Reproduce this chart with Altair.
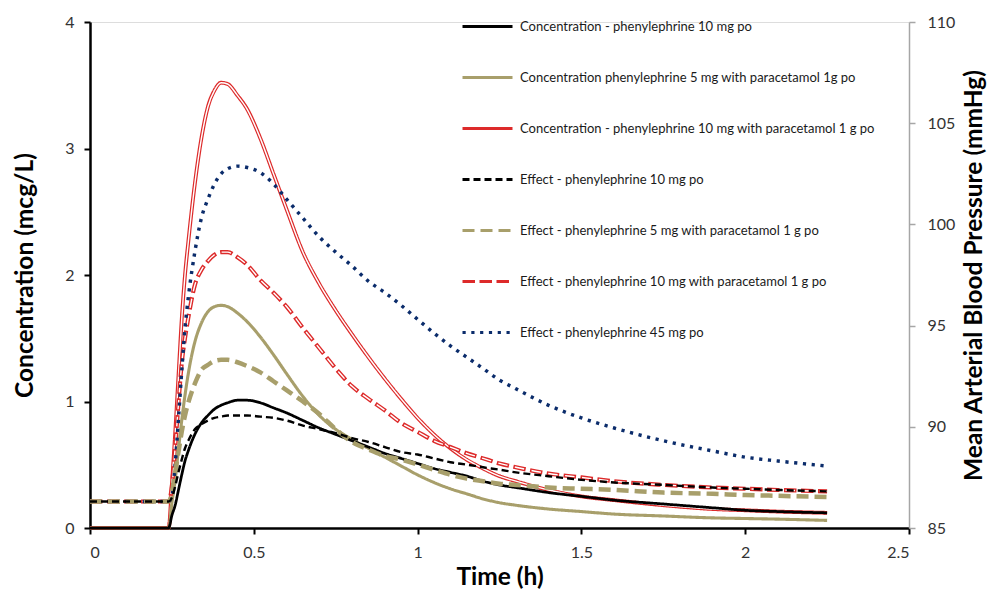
import altair as alt
import pandas as pd

TIME = [0, 0.24, 0.25, 0.26, 0.27, 0.28, 0.29, 0.30, 0.32, 0.34, 0.36, 0.38, 0.40, 0.42,
        0.45, 0.48, 0.52, 0.56, 0.60, 0.65, 0.70, 0.75, 0.80, 0.85, 0.90, 0.95, 1.00,
        1.05, 1.10, 1.15, 1.20, 1.25, 1.30, 1.40, 1.50, 1.60, 1.75, 1.90, 2.00, 2.10, 2.25]

SERIES = [
    "Concentration - phenylephrine 10 mg po",
    "Concentration phenylephrine 5 mg with paracetamol 1g po",
    "Concentration - phenylephrine 10 mg with paracetamol 1 g po",
    "Effect - phenylephrine 10 mg po",
    "Effect - phenylephrine 5 mg with paracetamol 1 g po",
    "Effect - phenylephrine 10 mg with paracetamol 1 g po",
    "Effect - phenylephrine 45 mg po",
]

# concentrations (mcg/L, left axis)
CONC_10 = [0, 0, 0.10, 0.18, 0.30, 0.42, 0.53, 0.61, 0.74, 0.83, 0.89, 0.94, 0.97, 0.99,
           1.01, 1.01, 0.99, 0.95, 0.91, 0.85, 0.79, 0.74, 0.69, 0.64, 0.59, 0.55, 0.51,
           0.47, 0.44, 0.41, 0.37, 0.34, 0.32, 0.28, 0.25, 0.22, 0.19, 0.16, 0.14, 0.13, 0.12]
CONC_5P = [0, 0, 0.20, 0.38, 0.62, 0.85, 1.05, 1.22, 1.47, 1.62, 1.71, 1.75, 1.76, 1.75,
           1.70, 1.63, 1.51, 1.37, 1.22, 1.04, 0.89, 0.78, 0.70, 0.63, 0.56, 0.49, 0.42,
           0.36, 0.31, 0.27, 0.23, 0.20, 0.18, 0.15, 0.13, 0.11, 0.095, 0.08, 0.075, 0.07, 0.06]
CONC_10P = [0, 0, 0.35, 0.75, 1.20, 1.65, 2.00, 2.26, 2.72, 3.08, 3.33, 3.46, 3.52, 3.51,
            3.42, 3.31, 3.08, 2.80, 2.52, 2.18, 1.93, 1.72, 1.53, 1.35, 1.18, 1.02, 0.87,
            0.74, 0.63, 0.54, 0.47, 0.41, 0.37, 0.30, 0.25, 0.22, 0.18, 0.15, 0.14, 0.13, 0.12]

# effects (mean arterial blood pressure, mmHg, right axis)
EFF_10 = [86.31, 86.31, 86.50, 87.06, 87.75, 88.38, 88.94, 89.31, 89.88, 90.13, 90.31, 90.44,
          90.50, 90.56, 90.56, 90.56, 90.50, 90.44, 90.31, 90.06, 89.88, 89.69, 89.44, 89.25,
          89.00, 88.75, 88.63, 88.44, 88.25, 88.13, 88.00, 87.88, 87.75, 87.56, 87.38, 87.25,
          87.13, 87.00, 86.94, 86.88, 86.81]
EFF_5P = [86.31, 86.31, 86.75, 87.75, 88.75, 89.75, 90.56, 91.19, 92.13, 92.81, 93.06, 93.25,
          93.31, 93.31, 93.19, 93.00, 92.69, 92.25, 91.81, 91.25, 90.63, 89.88, 89.25, 88.88,
          88.56, 88.38, 88.13, 87.88, 87.63, 87.44, 87.31, 87.19, 87.13, 87.00, 86.94, 86.88,
          86.75, 86.69, 86.63, 86.59, 86.53]
EFF_10P = [86.31, 86.31, 87.06, 89.00, 91.13, 93.13, 94.38, 95.38, 97.00, 97.75, 98.19, 98.50,
           98.63, 98.63, 98.38, 98.00, 97.25, 96.63, 95.94, 94.88, 93.88, 92.88, 92.00, 91.38,
           90.81, 90.19, 89.75, 89.31, 89.00, 88.69, 88.44, 88.19, 88.00, 87.69, 87.50, 87.31,
           87.13, 87.00, 86.94, 86.88, 86.81]
EFF_45 = [86.31, 86.31, 86.56, 88.13, 90.38, 92.75, 94.88, 96.38, 98.63, 100.31, 101.25, 102.00,
          102.50, 102.75, 102.88, 102.81, 102.56, 102.00, 101.25, 100.31, 99.38, 98.63, 97.94,
          97.19, 96.63, 96.00, 95.31, 94.63, 94.00, 93.44, 92.88, 92.31, 91.88, 91.06, 90.44,
          89.94, 89.31, 88.81, 88.50, 88.31, 88.06]

COLORS = ["#000000", "#A89F6B", "#DD2A2A", "#000000", "#A89F6B", "#DD2A2A", "#0B2C6B"]
DASHES = [[1, 0], [1, 0], [1, 0], [7, 4], [12, 6], [12.5, 4.5], [3.2, 5.6]]
# series ordered from thinnest to thickest line (evenly spaced widths)
WIDTH_ORDER = [SERIES[3], SERIES[0], SERIES[1], SERIES[6], SERIES[2], SERIES[5], SERIES[4]]
WIDTH_RANGE = [2.4, 4.5]

FONT = "Lato"


def frame(name, vals, col):
    return pd.DataFrame({"series": name, "time": TIME, col: vals})


conc_red = frame(SERIES[2], CONC_10P, "conc")
conc_other = pd.concat([frame(SERIES[1], CONC_5P, "conc"), frame(SERIES[0], CONC_10, "conc")])
eff_red = frame(SERIES[5], EFF_10P, "map")
eff_other = pd.concat([frame(SERIES[6], EFF_45, "map"), frame(SERIES[4], EFF_5P, "map"),
                       frame(SERIES[3], EFF_10, "map")])

TITLE_SIZE = 24.5

x_enc = alt.X("time:Q", title="Time (h)",
              scale=alt.Scale(domain=[0, 2.5], nice=False),
              axis=alt.Axis(values=[0, 0.5, 1, 1.5, 2, 2.5], format="~g", grid=False,
                            domainColor="black", domainWidth=2.5, tickColor="black",
                            tickWidth=2, tickSize=6, labelFontSize=16, labelColor="#333333",
                            labelPadding=10, labelFont=FONT, titleFont=FONT,
                            titleFontSize=TITLE_SIZE, titleFontWeight="bold",
                            titleColor="black", titlePadding=5))

yl_enc = alt.Y("conc:Q", title="Concentration (mcg/L)",
               scale=alt.Scale(domain=[0, 4], nice=False),
               axis=alt.Axis(values=[0, 1, 2, 3, 4], grid=False, domainColor="black",
                             domainWidth=2.5, tickColor="black", tickWidth=2, tickSize=6,
                             labelFontSize=16, labelColor="#333333", labelPadding=10,
                             labelFont=FONT, titleFont=FONT, titleFontSize=TITLE_SIZE,
                             titleFontWeight="bold", titleColor="black", titlePadding=27))

yr_enc = alt.Y("map:Q", title="Mean Arterial Blood Pressure (mmHg)",
               scale=alt.Scale(domain=[85, 110], nice=False, zero=False),
               axis=alt.Axis(orient="right", values=[85, 90, 95, 100, 105, 110], grid=False,
                             domainColor="#A6A6A6", domainWidth=1.5, tickColor="#A6A6A6",
                             tickWidth=1.5, tickSize=6, labelFontSize=16, labelColor="#333333",
                             labelPadding=12, labelFont=FONT, titleFont=FONT,
                             titleFontSize=TITLE_SIZE, titleFontWeight="bold",
                             titleColor="black", titleAngle=270, titleBaseline="top",
                             titlePadding=8))

legend = alt.Legend(orient="none", legendX=371, legendY=-22, title=None, symbolType="stroke",
                    symbolSize=2500, symbolStrokeWidth=3, labelFontSize=13, labelFont=FONT,
                    labelColor="#1a1a1a", labelLimit=0, rowPadding=17, padding=0,
                    labelOffset=6)

style = dict(
    color=alt.Color("series:N", scale=alt.Scale(domain=SERIES, range=COLORS), legend=legend),
    strokeDash=alt.StrokeDash("series:N", scale=alt.Scale(domain=SERIES, range=DASHES),
                              legend=legend),
    strokeWidth=alt.StrokeWidth("series:N",
                                scale=alt.Scale(type="point", domain=WIDTH_ORDER,
                                                range=WIDTH_RANGE, padding=0),
                                legend=None),
)


def lines(df, y):
    return alt.Chart(df).mark_line(interpolate="monotone", strokeJoin="round").encode(
        x=x_enc, y=y, **style)


def white(df, y, dash=None):
    kw = dict(interpolate="monotone", color="white", strokeWidth=1.4, strokeJoin="round")
    if dash:
        kw["strokeDash"] = dash
        kw["strokeDashOffset"] = -1.5
    return alt.Chart(df).mark_line(**kw).encode(x=x_enc, y=y)


left = alt.layer(lines(conc_red, yl_enc), white(conc_red, yl_enc), lines(conc_other, yl_enc))
right = alt.layer(lines(eff_red, yr_enc), white(eff_red, yr_enc, [9.5, 7.5]),
                  lines(eff_other, yr_enc))

chart = alt.layer(left, right).resolve_scale(y="independent").properties(
    width=819, height=506,
    autosize=alt.AutoSizeParams(type="none"),
    padding={"left": 82, "top": 14, "right": 82, "bottom": 61},
).configure_view(stroke=None).configure(font=FONT)

chart.save("out.html", embed_options={"renderer": "svg", "actions": False})
